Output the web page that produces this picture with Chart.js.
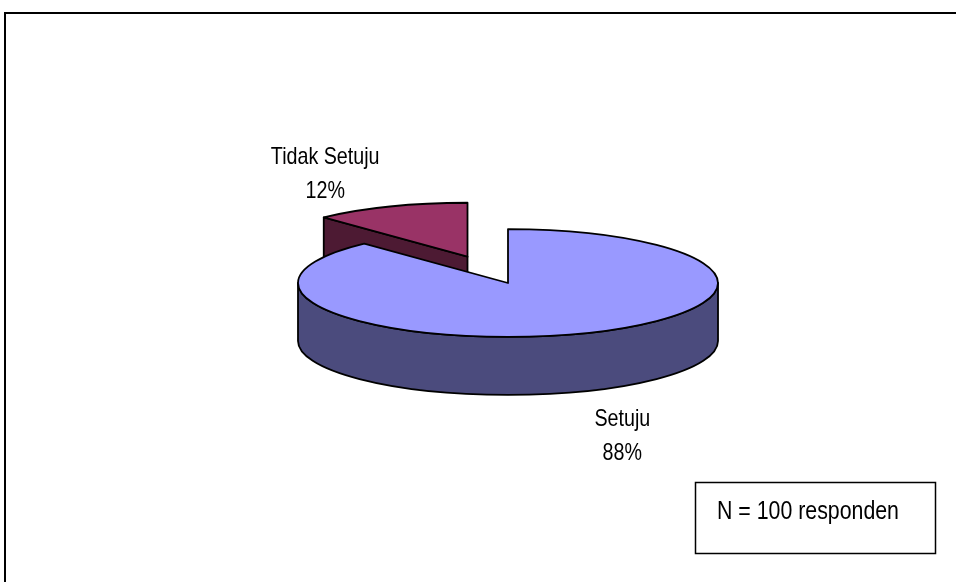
<!DOCTYPE html>
<html>
<head>
<meta charset="utf-8">
<script src="https://cdn.jsdelivr.net/npm/chart.js@4.4.1/dist/chart.umd.min.js"></script>
<style>
  html, body { margin: 0; padding: 0; background: #fff; }
  #wrap { width: 956px; height: 582px; }
</style>
</head>
<body>
<div id="wrap"><canvas id="chartPie" width="956" height="582"></canvas></div>
<script>
// data
const labels = ["Setuju", "Tidak Setuju"];
const values = [88, 12];
const topColors = ["#9999FF", "#993366"];
const sideColors = ["#4B4B7D", "#4D1A33"];
const explode = [0, 110];          // pulled-out distance per slice
const noteText = "N = 100 responden";

// 3d look
const squash = 0.257;
const depth = 58;
const labelOffset = [[37, 35], [-65, -43]];
const lineGap = 34;
const edgeWidth = 1.8;

function narrowText(ctx, text, x, y, size, align) {
  ctx.save();
  ctx.translate(x, y);
  ctx.scale(0.82, 1);
  ctx.font = size + 'px "Liberation Sans", Arial, sans-serif';
  ctx.textAlign = align || "center";
  ctx.textBaseline = "alphabetic";
  ctx.fillStyle = "#000";
  ctx.fillText(text, 0, 0);
  ctx.restore();
}

function centerY(chart) {
  return (chart.chartArea.top + chart.chartArea.bottom) / 2;
}

function screenCenter(chart, el) {
  const cy = centerY(chart);
  return { x: el.x, y: cy + (el.y - cy) * squash };
}

function drawSides(ctx, chart, el, color) {
  const c = screenCenter(chart, el);
  const R = el.outerRadius, ry = R * squash;
  const a0 = el.startAngle, a1 = el.endAngle;
  ctx.fillStyle = color;
  // cut faces
  [[a0, Math.cos(a0) < -0.01], [a1, Math.cos(a1) > 0.01]].forEach(([a, vis]) => {
    if (!vis) return;
    const px = c.x + R * Math.cos(a), py = c.y + ry * Math.sin(a);
    ctx.beginPath();
    ctx.moveTo(c.x, c.y);
    ctx.lineTo(px, py);
    ctx.lineTo(px, py + depth);
    ctx.lineTo(c.x, c.y + depth);
    ctx.closePath();
    ctx.fill();
    ctx.stroke();
  });
  // outer wall, front half only
  for (let k = -1; k <= 1; k++) {
    const lo = Math.max(a0, 2 * Math.PI * k);
    const hi = Math.min(a1, 2 * Math.PI * k + Math.PI);
    if (hi <= lo) continue;
    ctx.beginPath();
    ctx.ellipse(c.x, c.y, R, ry, 0, lo, hi);
    ctx.lineTo(c.x + R * Math.cos(hi), c.y + ry * Math.sin(hi) + depth);
    ctx.ellipse(c.x, c.y + depth, R, ry, 0, hi, lo, true);
    ctx.closePath();
    ctx.fill();
    ctx.stroke();
  }
}

const pie3d = {
  id: "pie3d",
  beforeDraw(chart) {
    const ctx = chart.ctx;
    ctx.save();
    ctx.fillStyle = "#fff";
    ctx.fillRect(0, 0, chart.width, chart.height);
    ctx.restore();
  },
  afterDatasetUpdate(chart, args) {
    args.meta.data.forEach((el, i) => {
      const d = explode[i] || 0;
      if (!d) return;
      const mid = (el.startAngle + el.endAngle) / 2;
      el.x += Math.cos(mid) * d;
      el.y += Math.sin(mid) * d;
    });
  },
  beforeDatasetsDraw(chart) {
    const ctx = chart.ctx;
    const arcs = chart.getDatasetMeta(0).data.map((el, i) => ({ el, i }));
    arcs.sort((a, b) => a.el.y - b.el.y);
    ctx.save();
    ctx.strokeStyle = "#000";
    ctx.lineWidth = edgeWidth;
    ctx.lineJoin = "round";
    arcs.forEach(({ el, i }) => drawSides(ctx, chart, el, sideColors[i]));
    ctx.restore();
    // squash the pie tops
    const cy = centerY(chart);
    ctx.save();
    ctx.translate(0, cy);
    ctx.scale(1, squash);
    ctx.translate(0, -cy);
  },
  afterDatasetsDraw(chart) {
    const ctx = chart.ctx;
    ctx.restore();
    ctx.save();
    ctx.strokeStyle = "#000";
    ctx.lineWidth = edgeWidth;
    ctx.lineJoin = "round";
    chart.getDatasetMeta(0).data.forEach((el) => {
      const c = screenCenter(chart, el);
      const R = el.outerRadius, ry = R * squash;
      ctx.beginPath();
      ctx.moveTo(c.x, c.y);
      ctx.lineTo(c.x + R * Math.cos(el.startAngle), c.y + ry * Math.sin(el.startAngle));
      ctx.ellipse(c.x, c.y, R, ry, 0, el.startAngle, el.endAngle);
      ctx.closePath();
      ctx.stroke();
    });
    ctx.restore();
  },
  afterDraw(chart) {
    const ctx = chart.ctx;
    const total = values.reduce((s, v) => s + v, 0);
    chart.getDatasetMeta(0).data.forEach((el, i) => {
      const c = screenCenter(chart, el);
      const R = el.outerRadius, ry = R * squash;
      const mid = (el.startAngle + el.endAngle) / 2;
      const ax = c.x + R * Math.cos(mid);
      const ay = c.y + ry * Math.sin(mid) + (Math.sin(mid) > 0 ? depth : 0);
      const x = ax + labelOffset[i][0], y = ay + labelOffset[i][1];
      narrowText(ctx, labels[i], x, y, 24);
      narrowText(ctx, Math.round(values[i] / total * 100) + "%", x, y + lineGap, 24);
    });
    // note box
    ctx.save();
    ctx.strokeStyle = "#000";
    ctx.lineWidth = 1.5;
    ctx.strokeRect(695.5, 482.5, 240, 71);
    ctx.restore();
    narrowText(ctx, noteText, 717, 519, 26, "left");
    // outer frame
    ctx.save();
    ctx.strokeStyle = "#000";
    ctx.lineWidth = 2;
    ctx.strokeRect(5, 13, 2000, 2000);
    ctx.restore();
  }
};

new Chart(document.getElementById("chartPie").getContext("2d"), {
  type: "pie",
  data: {
    labels: labels,
    datasets: [
      {
        data: values,
        backgroundColor: topColors,
        borderWidth: 0,
        clip: false,
      },
    ],
  },
  options: {
    responsive: false,
    devicePixelRatio: 1,
    animation: false,
    events: [],
    radius: 210,
    layout: { padding: { left: 100, right: 40, top: 20, bottom: 36 } },
    plugins: {
      legend: { display: false },
      tooltip: { enabled: false },
    },
  },
  plugins: [pie3d],
});
</script>
</body>
</html>
